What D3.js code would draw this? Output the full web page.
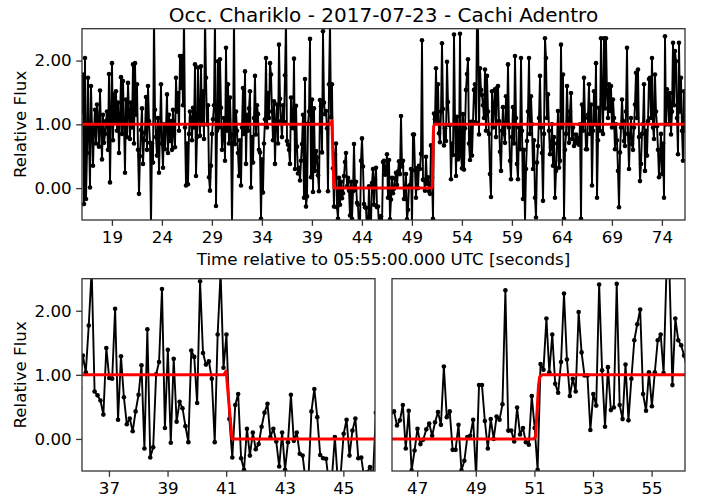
<!DOCTYPE html>
<html>
<head>
<meta charset="utf-8">
<script src="https://cdn.jsdelivr.net/npm/d3@7"></script>
<style>
    body { margin: 0; background: #fff; }
    svg text { font-family: "DejaVu Sans", sans-serif; fill: #000; }
    .tick text { font-size: 16.7px; }
    .tick line { stroke: #333; stroke-width: 1.3; }
</style>
</head>
<body>
<div id="chart"></div>
<script>
'use strict';

// cadence of the light curve (seconds after 05:55:00 UTC)
const T0 = 16.01;
const DT = 0.1;

// relative flux: before the event, around it, after it
const fluxBefore = [
    1.20, 1.78, -0.25, 2.04, -0.17, 0.55, 1.73, 0.80, 0.01, 1.60,
    0.95, 0.35, 0.90, 1.23, 0.70, 1.31, 1.10, 0.65, 1.53, 0.92,
    0.45, 1.15, 0.71, 0.85, 1.05, 1.20, 0.60, 1.79, 0.09, 1.10,
    1.96, 0.75, 1.47, 1.05, 1.52, 0.90, 1.34, 0.55, 1.10, 1.74,
    0.85, 1.68, 1.00, 0.24, 1.39, 0.80, 1.65, 1.20, 0.77, 1.34,
    0.95, 1.94, 0.70, 1.96, 1.15, 1.63, 0.60, -0.09, 0.50, 0.91,
    1.25, 0.38, 0.75, 0.87, 1.43, 0.60, 1.60, 1.05, 0.71, -0.60,
    0.70, 0.40, 2.70, 1.23, 0.80, 0.51, 1.10, 0.24, 0.90, 1.63,
    0.70, 0.32, 1.00, 0.61, 0.95, 1.47, 0.55, 1.15, 0.74, 1.05,
    0.60, 1.23, 0.85, 0.64, 1.73, 1.20, 1.49, 0.90, 2.07, 1.57,
    2.07, 1.30, 2.70, 0.95, 0.04, 0.70, 0.06, 0.85, 1.20, 1.10,
    0.75, 1.26, 0.95, 1.94, 0.19, 0.80, 1.89, 1.10, 0.82, 1.91,
    1.00, 1.52, 0.77, 2.70, 1.73, 1.00, 1.30, 0.17, -0.04, 0.35,
    0.85, 1.08, 1.30, 2.70, -0.28, 0.90, 1.99, 0.95, 2.02, 1.26,
    0.60, 0.82, 1.10, 0.43, 2.20, 0.90, 1.63, 0.70, 1.42, 0.84,
    -0.55, 0.70, 2.70, 0.69, 1.20, 0.90, 0.55, 0.19, 0.75, 0.04,
    0.95, 1.57, 0.85, 1.83, 0.38, 1.15, 0.90, 1.25, 1.52, 0.01,
    0.80, 0.40, 1.10, 1.76, 0.84, 1.30, 1.16, 0.60, 0.56, -0.48,
    0.45, -0.07, 0.70, 1.08, 2.04, 0.95, 1.49, 1.10, 1.96, 1.78,
    1.20, 0.75, 1.36, 0.38, 1.05, 1.31, 0.70, 2.25, 1.40, 1.05,
    0.80
];

const fluxEvent = [
    1.30, 1.04, 1.77, 2.65, 0.74, 0.68, 0.60, 0.38, 1.42, 0.95,
    0.94, 2.03, 0.30, 1.29, 0.65, 0.23, 0.32, 0.12, 0.43, 0.69,
    1.15, -0.15, 1.71, -0.29, -0.13, 1.01, 1.20, 2.34, 0.17, 1.39,
    -0.06, 1.25, 0.27, 0.58, 0.48, 0.20, -0.05, 1.38, 1.28, 0.56,
    2.46, 1.34, 1.16, 1.21, 0.94, -0.05, 1.63, 2.60, 1.11, 1.63,
    0.31, -0.29, 0.53, 0.70, -0.30, -0.48, 0.16, -0.26, 0.10, -0.16,
    -0.08, 0.19, 0.41, 0.55, 0.03, 0.16, -0.04, -0.43, 0.10, -0.48,
    -0.05, 0.69, -0.03, 0.10, -0.23, -0.26, -0.65, -0.60, 0.43, 0.78,
    0.34, -0.25, -0.30, -0.31, -0.70, -0.60, 0.03, -0.65, -0.55, 0.08,
    0.30, -0.26, 0.13, 0.32, -0.30, -0.29, -0.60, -0.52, -0.44, -0.60,
    0.41,
    0.43, 0.21, 0.29, 0.53, -0.15, 0.44, -0.49, -0.18, 0.16, -0.08,
    -0.01, 0.15, 0.24, 0.05, 0.26, 0.42, 0.22, 1.13, 0.34, 0.43,
    -0.17, -0.17, 0.22, -0.49, -0.34, 0.03, 0.05, 0.30, -0.60, 0.84,
    0.84, 0.28, -0.15, 0.31, 0.00, 0.35, 0.30, 0.54, 2.32, 0.13,
    0.13, -0.04, 0.49, 0.07, 0.17, -0.05, -0.09, 0.67, 0.17, -0.48,
    1.17, 1.08, 1.88, 1.04, 1.63, 0.86, 0.72, 1.20, 2.27, 1.24,
    0.67, 0.94, 0.74, 1.98, 1.35, 0.99, 0.99, 0.14, 0.70, 0.52,
    2.41, 1.07, 0.19, 1.12, 0.45, 0.49, 2.42, 0.53, 0.31, 1.16,
    0.29, 0.94, 1.54, 1.79, 2.02, 0.70, 0.44, 1.04, 0.51, 1.04,
    1.54, 1.63, 1.03, 2.65, 2.60, 0.84, 1.88, 1.54, 1.46, 1.30
];

const fluxAfter = [
    1.10, 1.86, 0.90, 1.76, 1.20, 0.85, 0.22, -0.14, 1.52, 0.95,
    1.30, 1.55, 0.80, 1.57, 1.60, 1.05, 0.57, 0.27, 0.90, 1.27,
    0.85, 0.71, 1.44, 1.00, 1.94, 0.95, 0.43, 0.14, 0.80, 1.27,
    0.70, 2.07, 1.10, 0.38, 0.14, 0.95, 0.61, 2.04, 0.90, -0.17,
    0.60, -0.55, 0.30, 0.74, 1.20, 2.04, 0.85, 1.44, 1.00, 0.30,
    0.75, -0.15, -0.46, 0.40, 0.66, 1.10, 1.76, 0.95, 0.55, -0.20,
    0.85, 2.35, 2.04, 1.10, 1.47, 0.90, 0.53, 0.64, 1.00, 0.35,
    0.80, -0.15, 0.27, 0.70, 1.21, 0.32, 0.43, 2.25, 0.95, 1.78,
    -0.48, 0.60, 0.85, 1.60, 1.05, 0.71, 1.20, 1.49, 0.77, 0.95,
    0.66, 0.70, 0.84, 0.72, 0.79, 0.68, 1.00, -0.48, 1.31, 0.90,
    1.73, 1.10, 0.61, 0.61, 1.15, 1.63, 0.85, 1.31, 0.04, 0.90,
    1.52, 1.00, 1.96, -0.15, 0.75, 1.26, 0.90, 2.35, 1.39, 0.85,
    2.35, 1.25, 2.35, 1.49, 1.10, 1.63, 1.21, 1.60, 0.95, 1.39,
    1.10, 0.61, 1.00, 0.75, 0.27, -0.30, 0.56, 0.95, 1.39, 1.05,
    0.74, 0.66, 1.20, 2.20, 0.85, 0.30, 0.82, 1.10, 0.69, 0.60,
    0.95, 1.31, 1.81, 1.10, 1.86, 0.80, 0.11, 0.38, 0.85, 1.00,
    1.63, 0.27, 0.90, 0.51, 1.05, 1.71, 1.73, 1.10, 2.04, 0.95,
    0.77, 1.78, 1.20, 0.97, 0.60, 0.17, 0.51, 0.85, 0.22, 0.70,
    -0.15, 2.38, 1.00, 1.55, 1.44, 1.00, 1.49, 0.84, 1.20, 2.28,
    1.30, 2.15, 1.99, 1.10, 0.53, 2.28, 1.20, 1.73, 0.90, 0.43,
    1.52, 0.90
];

// fitted square-well model (red)
const modelTime = [16.01, 40.92, 41.00, 41.20, 50.97, 51.04, 51.14, 51.18, 51.27, 76.31];
const modelFlux = [1.00, 1.00, 1.06, 0.00, 0.00, 0.03, 0.83, 0.97, 1.00, 1.00];

// tick labels and zoom windows
const topTicks = [19, 24, 29, 34, 39, 44, 49, 54, 59, 64, 69, 74];
const ingressTicks = [37, 39, 41, 43, 45];
const egressTicks = [47, 49, 51, 53, 55];
const ingressWindow = [36.08, 46.08];
const egressWindow = [46.14, 56.14];
const fluxTicks = [0, 1, 2];
const fluxRange = [-0.5, 2.5];

const TITLE = 'Occ. Chariklo - 2017-07-23 - Cachi Adentro';
const XLABEL = 'Time relative to 05:55:00.000 UTC [seconds]';
const YLABEL = 'Relative Flux';

const flux = fluxBefore.concat(fluxEvent, fluxAfter);
const points = flux.map(function (f, i) {
    return { t: T0 + i * DT, f: f };
});
const model = modelTime.map(function (t, i) {
    return { t: t, f: modelFlux[i] };
});

const svg = d3.select('#chart').append('svg')
    .attr('width', 705).attr('height', 502);

const panels = [
    { left: 82, top: 28.7, width: 603, height: 191.3, xDomain: d3.extent(points, d => d.t), ticks: topTicks, yAxis: true },
    { left: 82, top: 278.7, width: 293, height: 192.3, xDomain: ingressWindow, ticks: ingressTicks, yAxis: true },
    { left: 392, top: 278.7, width: 293, height: 192.3, xDomain: egressWindow, ticks: egressTicks, yAxis: false }
];

panels.forEach(function (p, idx) {
    const g = svg.append('g').attr('transform', 'translate(' + p.left + ',' + p.top + ')');
    const x = d3.scaleLinear().domain(p.xDomain).range([0, p.width]);
    const y = d3.scaleLinear().domain(fluxRange).range([p.height, 0]);

    const clipId = 'clip-' + idx;
    g.append('clipPath').attr('id', clipId)
        .append('rect').attr('width', p.width).attr('height', p.height);

    const plot = g.append('g').attr('clip-path', 'url(#' + clipId + ')');

    // only what is near the window, so lines still run out of the frame
    const shown = points.filter(d => d.t >= p.xDomain[0] - 0.15 && d.t <= p.xDomain[1] + 0.15);

    const line = d3.line().x(d => x(d.t)).y(d => y(d.f));

    plot.append('path').datum(shown)
        .attr('d', line)
        .attr('fill', 'none')
        .attr('stroke', '#000')
        .attr('stroke-width', 1.9)
        .attr('stroke-linejoin', 'round');

    plot.selectAll('circle').data(shown)
        .enter().append('circle')
        .attr('cx', d => x(d.t))
        .attr('cy', d => y(d.f))
        .attr('r', 2.3)
        .attr('fill', '#000');

    plot.append('path').datum(model)
        .attr('d', line)
        .attr('fill', 'none')
        .attr('stroke', '#ff0000')
        .attr('stroke-width', 3)
        .attr('stroke-linejoin', 'round');

    const xAxis = d3.axisBottom(x).tickValues(p.ticks)
        .tickSize(5.8).tickSizeOuter(0).tickPadding(5)
        .tickFormat(d3.format('d'));

    g.append('g').attr('transform', 'translate(0,' + p.height + ')')
        .call(xAxis)
        .call(a => a.select('.domain').remove());

    if (p.yAxis) {
        const yAxis = d3.axisLeft(y).tickValues(fluxTicks)
            .tickSize(5.8).tickSizeOuter(0).tickPadding(4.5)
            .tickFormat(d3.format('.2f'));

        g.append('g').call(yAxis)
            .call(a => a.select('.domain').remove());

        g.append('text')
            .attr('transform', 'translate(' + (-56) + ',' + (p.height / 2) + ') rotate(-90)')
            .attr('text-anchor', 'middle')
            .style('font-size', '16.7px')
            .text(YLABEL);
    }

    g.append('rect')
        .attr('width', p.width).attr('height', p.height)
        .attr('fill', 'none')
        .attr('stroke', '#333')
        .attr('stroke-width', 1.3);
});

svg.append('text')
    .attr('x', 82 + 603 / 2).attr('y', 22)
    .attr('text-anchor', 'middle')
    .style('font-size', '20px')
    .text(TITLE);

svg.append('text')
    .attr('x', 82 + 603 / 2).attr('y', 265)
    .attr('text-anchor', 'middle')
    .style('font-size', '16.7px')
    .text(XLABEL);
</script>
</body>
</html>
